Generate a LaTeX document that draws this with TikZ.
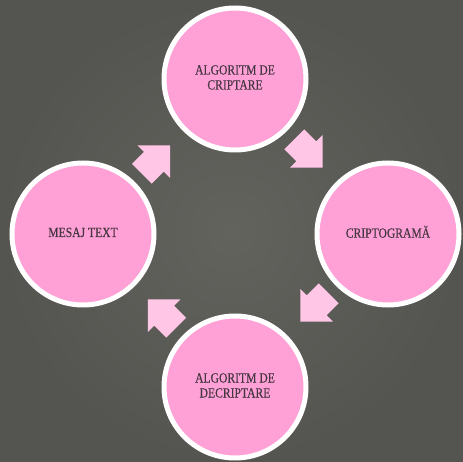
\documentclass[tikz,border=0pt]{standalone}
\usepackage{fontspec}
\setmainfont{Liberation Serif}[FakeBold=0.35]
\usetikzlibrary{calc}

\definecolor{boardlight}{RGB}{99,99,94}
\definecolor{boarddark}{RGB}{84,84,80}
\definecolor{stagepink}{RGB}{255,160,214}
\definecolor{arrowpink}{RGB}{255,198,230}
\definecolor{labelink}{RGB}{70,54,66}

\newcommand{\stagetext}[1]{\scalebox{0.83}[1]{\begin{tabular}{@{}c@{}}#1\end{tabular}}}

\tikzset{
  stage/.style={circle, draw=white, line width=5pt, fill=stagepink,
    minimum size=142pt, inner sep=0pt, text=labelink,
    font=\fontsize{14}{15}\selectfont},
  pics/blockarrow/.style={code={
    \fill[arrowpink] (-20,-14) -- (-3,-14) -- (-3,-23) -- (20,0)
      -- (-3,23) -- (-3,14) -- (-20,14) -- cycle;
  }}
}

\begin{document}
\begin{tikzpicture}[x=1pt,y=-1pt]
  % chalkboard background
  \shade[inner color=boardlight, outer color=boarddark] (0,0) rectangle (463,462);
  \useasboundingbox (0,0) rectangle (463,462);

  % the four stages of the cycle
  \node[stage] (enc) at (235,79) {\stagetext{ALGORITM DE\\CRIPTARE}};
  \node[stage] (crypt) at (388,234) {\stagetext{CRIPTOGRAMĂ}};
  \node[stage] (dec) at (235,387) {\stagetext{ALGORITM DE\\DECRIPTARE}};
  \node[stage] (msg) at (83,234) {\stagetext{MESAJ TEXT}};

  % block arrows, clockwise
  \pic[rotate=45] at ($(msg)!0.48!(enc)$) {blockarrow};
  \pic[rotate=-45] at ($(enc)!0.48!(crypt)$) {blockarrow};
  \pic[rotate=-135] at ($(crypt)!0.48!(dec)$) {blockarrow};
  \pic[rotate=135] at ($(dec)!0.48!(msg)$) {blockarrow};
\end{tikzpicture}
\end{document}
